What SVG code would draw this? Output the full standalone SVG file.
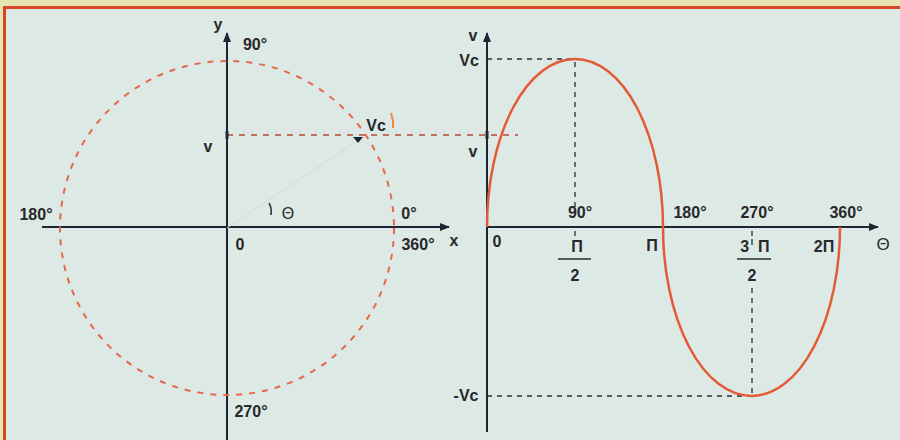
<svg xmlns="http://www.w3.org/2000/svg" width="900" height="440" viewBox="0 0 900 440">
<defs>
<style>
.t{font-family:"Liberation Sans",Arial,sans-serif;font-weight:bold;font-size:16px;fill:#26282b;text-anchor:middle}
.axis{stroke:#1d2733;stroke-width:2;fill:none}
.dk{stroke:#2a2e33;stroke-width:1.3;stroke-dasharray:5 5;fill:none}
.rd{stroke:#b94a38;stroke-width:1.3;stroke-dasharray:6 6;fill:none}
.curve{stroke:#e55a36;stroke-width:2.5;fill:none}
.circ{stroke:#e8674a;stroke-width:2;stroke-dasharray:6 7;fill:none}
</style>
<marker id="ah" viewBox="0 0 10 10" refX="9" refY="5" markerWidth="5" markerHeight="5" orient="auto">
<path d="M0,1 L10,5 L0,9 Z" fill="#1d2733"/>
</marker>
</defs>
<rect x="0" y="0" width="900" height="440" fill="#dde9e5"/>
<rect x="0" y="0" width="900" height="6" fill="#e5e4b2"/>
<rect x="0" y="0" width="3" height="440" fill="#e5e4b2"/>
<rect x="3" y="6" width="897" height="3" fill="#d8462a"/>
<rect x="3" y="6" width="3" height="434" fill="#d8462a"/>

<g id="connectors">
<line class="axis" x1="227" y1="440" x2="227" y2="33" marker-end="url(#ah)"/>
<line class="axis" x1="42" y1="227" x2="449" y2="227" marker-end="url(#ah)"/>
<line class="axis" x1="487" y1="432" x2="487" y2="33" marker-end="url(#ah)"/>
<line class="axis" x1="487" y1="227" x2="878" y2="227" marker-end="url(#ah)"/>
<circle class="circ" cx="227" cy="228" r="167"/>
<line x1="227" y1="228" x2="357" y2="141" stroke="#d0dad8" stroke-width="1"/>
<line class="rd" x1="227" y1="135" x2="518" y2="135"/>
<line class="dk" x1="487" y1="59" x2="575" y2="59"/>
<line class="dk" x1="575" y1="62" x2="575" y2="208"/>
<line class="dk" x1="487" y1="396" x2="752" y2="396"/>
<line class="dk" x1="752" y1="288" x2="752" y2="394"/>
<line x1="575" y1="231" x2="575" y2="236" stroke="#2a2e33" stroke-width="1.3"/>
<line x1="752" y1="231" x2="752" y2="236" stroke="#2a2e33" stroke-width="1.3"/>
<line x1="752" y1="239" x2="752" y2="245" stroke="#2a2e33" stroke-width="1.3"/>
<line x1="487" y1="131" x2="487" y2="139" stroke="#1d2733" stroke-width="3"/>
<line x1="227" y1="131" x2="227" y2="139" stroke="#1d2733" stroke-width="3"/>
<path class="curve" d="M487,227 A88,168 0 0 1 663,227 A88,168 0 0 0 840,227"/>
<path d="M353,137 L363,137 L358,143 Z" fill="#1d2733"/>
<path d="M391,113 L393,121 L393,128" stroke="#f08a3a" stroke-width="2" fill="none"/>
<path d="M269,203 Q272,208 271,215" stroke="#333" stroke-width="1.6" fill="none"/>
</g>

<g id="circle-labels">
<text class="t" x="218" y="30">y</text>
<text class="t" x="255" y="50">90°</text>
<text class="t" x="208" y="152">v</text>
<text class="t" x="376" y="131">Vc</text>
<text class="t" x="36" y="220">180°</text>
<text class="t" x="409" y="219">0°</text>
<text class="t" x="288" y="219" style="font-weight:normal">Θ</text>
<text class="t" x="240" y="250">0</text>
<text class="t" x="418" y="250">360°</text>
<text class="t" x="454" y="246">x</text>
<text class="t" x="251" y="417">270°</text>
</g>

<g id="wave-labels">
<text class="t" x="473" y="41">v</text>
<text class="t" x="469" y="66">Vc</text>
<text class="t" x="473" y="157">v</text>
<text class="t" x="466" y="401">-Vc</text>
<text class="t" x="497" y="247">0</text>
<text class="t" x="580" y="218">90°</text>
<text class="t" x="690" y="218">180°</text>
<text class="t" x="757" y="218">270°</text>
<text class="t" x="846" y="218">360°</text>
<text class="t" x="577" y="252">Π</text>
<line x1="558" y1="259" x2="591" y2="259" stroke="#26282b" stroke-width="1.5"/>
<text class="t" x="575" y="281">2</text>
<text class="t" x="652" y="251">Π</text>
<text class="t" x="755" y="252" xml:space="preserve">3  Π</text>
<line x1="737" y1="259" x2="771" y2="259" stroke="#26282b" stroke-width="1.5"/>
<text class="t" x="752" y="281">2</text>
<text class="t" x="824" y="252">2Π</text>
<text class="t" x="883" y="250" style="font-weight:normal;font-size:17px">Θ</text>
</g>
</svg>
